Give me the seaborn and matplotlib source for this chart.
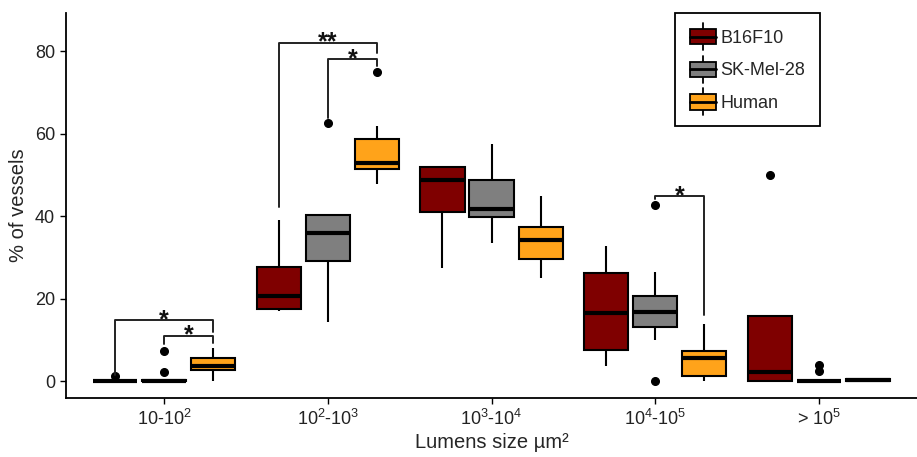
import pandas as pd
import matplotlib
matplotlib.use("Agg")
import matplotlib.pyplot as plt
import seaborn as sns
from matplotlib.patches import Patch, Rectangle
from matplotlib.lines import Line2D
from matplotlib.legend_handler import HandlerBase

# Lumen size classes and cell lines
sizes = ["10-10$^2$", "10$^2$-10$^3$", "10$^3$-10$^4$", "10$^4$-10$^5$", "> 10$^5$"]
lines = ["B16F10", "SK-Mel-28", "Human"]
colors = ["#7F0000", "#7F7F7F", "#FFA31A"]

# % of vessels per sample (one list per size class)
b16f10 = [
    [0, 0, 0, 0, 0, 0, 0, 0, 1.2],
    [17.0, 17.2, 17.5, 19, 20.6, 24, 27.7, 33, 39],
    [27.5, 35, 41, 45, 48.7, 50.5, 52, 52, 52],
    [3.6, 5.5, 7.5, 12, 16.4, 21, 26.1, 29.5, 32.7],
    [0, 0, 0, 1, 2.1, 9, 15.8, 15.8, 50],
]
skmel28 = [
    [0, 0, 0, 0, 0, 0, 0.2, 2.3, 7.3],
    [14.4, 22, 29.1, 33, 36, 38, 40.2, 40.5, 62.5],
    [33.4, 37, 39.8, 40.8, 41.7, 45, 48.7, 53, 57.5],
    [0, 9.9, 13.2, 15, 16.8, 18.5, 20.7, 26.5, 42.8],
    [0, 0, 0, 0, 0, 0, 0, 2.4, 3.9],
]
human = [
    [0, 1.5, 2.6, 3.2, 3.7, 4.5, 5.5, 7, 8],
    [47.8, 49.5, 51.4, 52.2, 52.9, 56, 58.7, 61.8, 75],
    [25, 27.5, 29.7, 32, 34.3, 36, 37.3, 41, 44.8],
    [0, 0.6, 1.2, 3.5, 5.5, 6.5, 7.3, 10.5, 13.8],
    [0.0, 0.05, 0.1, 0.2, 0.3, 0.4, 0.5, 0.7, 0.8],
]

# significance brackets: size index, from line, to line, bar y, left leg end, right leg end, label
brackets = [
    (0, 0, 2, 14.8, 1.5, 12.0, "*"),
    (0, 1, 2, 11.0, 9.0, 9.2, "*"),
    (1, 0, 2, 82.1, 42.3, 79.5, "**"),
    (1, 1, 2, 78.1, 63.8, 76.3, "*"),
    (3, 1, 2, 44.9, 44.1, 16.0, "*"),
]

rows = []
for name, groups in zip(lines, [b16f10, skmel28, human]):
    for size, vals in zip(sizes, groups):
        for v in vals:
            rows.append({"size": size, "line": name, "pct": v})
df = pd.DataFrame(rows)

sns.set_style("white")
plt.rcParams["font.family"] = ["Liberation Sans", "DejaVu Sans"]
plt.rcParams["mathtext.fontset"] = "custom"
plt.rcParams["mathtext.rm"] = "Liberation Sans"
plt.rcParams["mathtext.default"] = "regular"


class BoxHandler(HandlerBase):
    # legend key drawn like a small box-and-whisker glyph
    def create_artists(self, legend, orig_handle, xdescent, ydescent,
                       width, height, fontsize, trans):
        x0, y0 = -xdescent, -ydescent
        cx = x0 + width / 2
        bh = height * 0.85
        by = y0 + (height - bh) / 2
        box = Rectangle((x0, by), width, bh, facecolor=orig_handle.get_facecolor(),
                        edgecolor="black", linewidth=1.3, transform=trans)
        med = Line2D([x0, x0 + width], [by + bh / 2] * 2, color="black", linewidth=2, transform=trans)
        w1 = Line2D([cx, cx], [y0 - height * 0.25, by], color="black", linewidth=1.3, transform=trans)
        w2 = Line2D([cx, cx], [by + bh, y0 + height * 1.25], color="black", linewidth=1.3, transform=trans)
        return [w1, w2, box, med]


fig = plt.figure(figsize=(9.17, 4.57), dpi=100)
ax = fig.add_axes([0.072, 0.129, 0.928, 0.842])

sns.boxplot(data=df, x="size", y="pct", hue="line", order=sizes, hue_order=lines,
            palette=colors, saturation=1, width=0.9, gap=0.1, linecolor="black",
            linewidth=1.5, showcaps=False, fliersize=5.5, legend=False,
            flierprops=dict(marker="o", markerfacecolor="black", markeredgecolor="black"),
            medianprops=dict(linewidth=3, color="black"), ax=ax)

# brackets
offsets = [-0.3, 0.0, 0.3]
for g, a, b, y, ya, yb, lab in brackets:
    xa, xb = g + offsets[a], g + offsets[b]
    ax.plot([xa, xa, xb, xb], [ya, y, y, yb], color="#222222", linewidth=1.4)
    ax.annotate(lab, xy=((xa + xb) / 2, y), xytext=(0, -5), textcoords="offset points",
                ha="center", va="baseline", fontsize=18, fontweight="bold", color="#111111")

ax.set_xlim(-0.6, 4.6)
ax.set_ylim(-4.1, 89.2)
ax.set_yticks([0, 20, 40, 60, 80])
ax.set_xlabel("Lumens size µm²", fontsize=14.5, labelpad=3)
ax.set_ylabel("% of vessels", fontsize=14.5, labelpad=5)
ax.tick_params(axis="both", labelsize=13, colors="black", labelcolor="#222222", length=4,
               width=1, direction="out", bottom=True, left=True, pad=4)
sns.despine(ax=ax)
for s in ["left", "bottom"]:
    ax.spines[s].set_color("black")
    ax.spines[s].set_linewidth(1.3)

handles = [Patch(facecolor=c, edgecolor="black", label=l) for c, l in zip(colors, lines)]
leg = ax.legend(handles=handles, handler_map={Patch: BoxHandler()}, loc="upper left",
                bbox_to_anchor=(0.716, 1.0), borderaxespad=0, fontsize=13, frameon=True,
                fancybox=False, framealpha=1, borderpad=0.8, handlelength=1.45,
                handleheight=1.15, handletextpad=0.25, labelspacing=0.75)
leg.get_frame().set_edgecolor("black")
leg.get_frame().set_linewidth(1.3)

fig.savefig("out.png", dpi=100)
